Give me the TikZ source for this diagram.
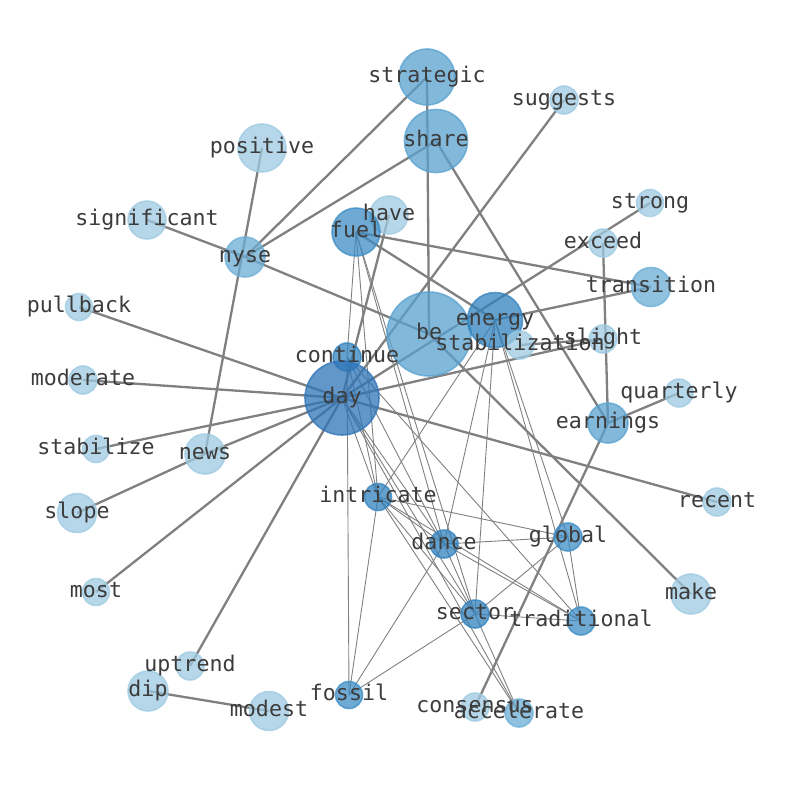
\documentclass[tikz,border=0pt]{standalone}
\usepackage{fontspec}
\setmonofont{DejaVu Sans Mono}

\definecolor{blueA}{HTML}{9ECAE1}  % leaves
\definecolor{blueB}{HTML}{6BAED6}
\definecolor{blueC}{HTML}{58A1CF}
\definecolor{blueD}{HTML}{3D8DC5}
\definecolor{blueE}{HTML}{3282BE}
\definecolor{blueF}{HTML}{2E74B8}  % hub
\definecolor{txt}{HTML}{3C3C3C}

\pgfdeclarelayer{edges}
\pgfsetlayers{edges,main}

\begin{document}
\begin{tikzpicture}[x=1pt,y=-1pt]

\tikzset{%
  word/.style  = {circle, inner sep=0pt, fill=#1, draw=#1, opacity=0.75, line width=1.6pt},
  heavy/.style = {draw=gray, line width=2.3pt},
  faint/.style = {draw=gray, line width=0.9pt},
  lbl/.style   = {font=\fontsize{21.6}{24}\selectfont\ttfamily, text=txt,
                  text height=16.4pt, text depth=5pt, inner sep=0pt},
}

\useasboundingbox (0,0) rectangle (794,790);

% top
\node[word=blueC, minimum size=56] (strategic) at (427,77)  {};
\node[word=blueA, minimum size=28] (suggests)  at (564,100) {};
\node[word=blueC, minimum size=63] (share)     at (436,141) {};
\node[word=blueA, minimum size=48] (positive)  at (262,148) {};
\node[word=blueA, minimum size=27] (strong)    at (650,203) {};
\node[word=blueA, minimum size=38] (have)      at (389,215) {};
\node[word=blueA, minimum size=38] (significant) at (147,220) {};
\node[word=blueD, minimum size=48] (fuel)      at (356,232) {};
\node[word=blueA, minimum size=28] (exceed)    at (603,243) {};
\node[word=blueB, minimum size=40] (nyse)      at (245,257) {};
\node[word=blueB, minimum size=39] (transition) at (651,287) {};

% middle
\node[word=blueA, minimum size=27] (pullback)  at (79,307)  {};
\node[word=blueC, minimum size=84] (be)        at (429,334) {};
\node[word=blueE, minimum size=55] (energy)    at (495,320) {};
\node[word=blueA, minimum size=28] (stabilization) at (520,345) {};
\node[word=blueA, minimum size=28] (slight)    at (603,339) {};
\node[word=blueE, minimum size=28] (continue)  at (347,357) {};
\node[word=blueA, minimum size=28] (moderate)  at (83,380)  {};
\node[word=blueF, minimum size=74] (day)       at (342,398) {};
\node[word=blueA, minimum size=28] (quarterly) at (679,393) {};
\node[word=blueC, minimum size=40] (earnings)  at (608,423) {};
\node[word=blueA, minimum size=27] (stabilize) at (96,449)  {};
\node[word=blueA, minimum size=40] (news)      at (205,454) {};

% bottom
\node[word=blueE, minimum size=27] (intricate) at (378,497) {};
\node[word=blueA, minimum size=28] (recent)    at (717,502) {};
\node[word=blueA, minimum size=39] (slope)     at (77,513)  {};
\node[word=blueD, minimum size=28] (global)    at (568,537) {};
\node[word=blueE, minimum size=28] (dance)     at (444,544) {};
\node[word=blueA, minimum size=27] (most)      at (96,592)  {};
\node[word=blueA, minimum size=40] (make)      at (691,594) {};
\node[word=blueE, minimum size=28] (sector)    at (475,614) {};
\node[word=blueD, minimum size=28] (traditional) at (581,621) {};
\node[word=blueA, minimum size=28] (uptrend)   at (190,666) {};
\node[word=blueA, minimum size=40] (dip)       at (148,691) {};
\node[word=blueD, minimum size=27] (fossil)    at (349,695) {};
\node[word=blueA, minimum size=39] (modest)    at (269,711) {};
\node[word=blueA, minimum size=28] (consensus) at (475,707) {};
\node[word=blueB, minimum size=28] (accelerate) at (519,713) {};

\begin{pgfonlayer}{edges}
% heavy links
\foreach \t in {pullback,moderate,stabilize,news,most,uptrend,recent,suggests,have,strong,slight}
  \draw[heavy] (day.center) -- (\t.center);
\foreach \a/\b in {strategic/nyse, share/nyse, significant/nyse, positive/news, nyse/be,
                   strategic/be, share/earnings, fuel/transition, fuel/energy,
                   energy/transition, exceed/earnings, earnings/quarterly,
                   earnings/consensus, be/make, stabilization/slight, slope/news,
                   dip/modest}
  \draw[heavy] (\a.center) -- (\b.center);

% faint links
\foreach \t in {fuel,fossil,intricate,dance,traditional}
  \draw[faint] (continue.center) -- (\t.center);
\foreach \t in {intricate,dance,sector}
  \draw[faint] (fuel.center) -- (\t.center);
\foreach \t in {intricate,dance,sector,traditional,global}
  \draw[faint] (energy.center) -- (\t.center);
\foreach \t in {intricate,dance,sector,accelerate}
  \draw[faint] (day.center) -- (\t.center);
\foreach \a/\b in {intricate/dance, intricate/sector, intricate/traditional,
                   intricate/global, intricate/fossil, intricate/accelerate,
                   dance/sector, dance/traditional, dance/global, dance/fossil,
                   sector/traditional, sector/global, sector/fossil,
                   sector/accelerate, traditional/global}
  \draw[faint] (\a.center) -- (\b.center);
\end{pgfonlayer}

% labels on top
\foreach \w in {strategic,suggests,share,positive,strong,have,significant,fuel,exceed,
                nyse,transition,pullback,be,energy,stabilization,slight,continue,
                moderate,day,quarterly,earnings,stabilize,news,intricate,recent,slope,
                global,dance,most,make,sector,traditional,uptrend,dip,fossil,modest,
                consensus,accelerate}
  \node[lbl] (\w-t) at (\w) {\w};

\end{tikzpicture}
\end{document}
